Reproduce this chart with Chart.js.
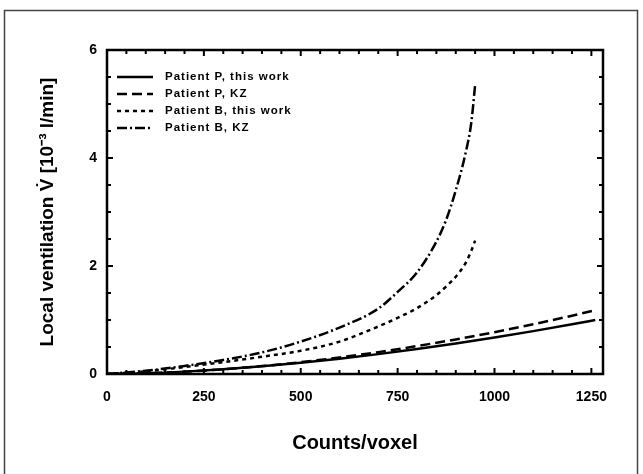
<!DOCTYPE html>
<html>
<head>
<meta charset="utf-8">
<script src="https://cdn.jsdelivr.net/npm/chart.js@4"></script>
<style>
  body { margin: 0; background: #fff; }
  #wrap { width: 643px; height: 474px; }
</style>
</head>
<body>
<div id="wrap"><canvas id="ventilation-chart" width="643" height="474"></canvas></div>
<script>
// values (counts/voxel -> local ventilation, 10^-3 l/min)
const countsP = [0, 100, 200, 300, 400, 500, 600, 700, 800, 900, 1000, 1100, 1200, 1260];
const patientPThisWork = [0, 0.014, 0.044, 0.087, 0.142, 0.208, 0.283, 0.368, 0.462, 0.565, 0.675, 0.794, 0.92, 1.0];
const patientPKZ = [0, 0.012, 0.041, 0.087, 0.146, 0.219, 0.306, 0.405, 0.517, 0.64, 0.775, 0.921, 1.08, 1.18];

const countsB = [0, 100, 200, 300, 400, 500, 600, 700, 750, 800, 850, 875, 900, 925, 940, 950];
const patientBThisWork = [0, 0.05, 0.13, 0.22, 0.32, 0.43, 0.6, 0.88, 1.04, 1.22, 1.46, 1.62, 1.8, 2.05, 2.28, 2.47];
const patientBKZ = [0, 0.06, 0.15, 0.26, 0.4, 0.6, 0.86, 1.21, 1.52, 1.88, 2.45, 2.85, 3.4, 4.08, 4.65, 5.35];

const seriesNames = ["Patient P, this work", "Patient P, KZ", "Patient B, this work", "Patient B, KZ"];
const xTicks = [0, 250, 500, 750, 1000, 1250];
const yTicks = [0, 2, 4, 6];

const FONT = "'Liberation Sans', Arial, sans-serif";
const toPoints = (xs, ys) => xs.map((x, i) => ({ x, y: ys[i] }));

const dashes = [[], [10, 5], [4, 4], [10, 3, 2, 3]];

// frame, inward ticks, outer border and legend
const figureDecor = {
  id: "figureDecor",
  beforeDraw(chart) {
    const ctx = chart.ctx;
    ctx.save();
    ctx.fillStyle = "#fff";
    ctx.fillRect(0, 0, chart.width, chart.height);
    ctx.strokeStyle = "#444";
    ctx.lineWidth = 1.5;
    ctx.strokeRect(4.5, 10.5, 633, 475);
    ctx.restore();
  },
  afterDatasetsDraw(chart) {
    const { ctx, chartArea: a, scales: { x, y } } = chart;
    ctx.save();
    ctx.strokeStyle = "#000";
    ctx.lineWidth = 2.5;
    ctx.setLineDash([]);
    ctx.strokeRect(a.left, a.top, a.right - a.left, a.bottom - a.top);

    ctx.lineWidth = 2;
    for (let v = 0; v <= 1250; v += 50) {
      const px = x.getPixelForValue(v);
      const len = v % 250 === 0 ? 6 : 4;
      ctx.beginPath();
      ctx.moveTo(px, a.bottom); ctx.lineTo(px, a.bottom - len);
      ctx.moveTo(px, a.top); ctx.lineTo(px, a.top + len);
      ctx.stroke();
    }
    for (let v = 0; v <= 6; v += 0.5) {
      const py = y.getPixelForValue(v);
      const len = v % 2 === 0 ? 6 : 4;
      ctx.beginPath();
      ctx.moveTo(a.left, py); ctx.lineTo(a.left + len, py);
      ctx.moveTo(a.right, py); ctx.lineTo(a.right - len, py);
      ctx.stroke();
    }

    // legend
    ctx.font = "bold 11.5px " + FONT;
    ctx.letterSpacing = "1px";
    ctx.textBaseline = "middle";
    ctx.fillStyle = "#000";
    chart.data.datasets.forEach((ds, i) => {
      const ly = a.top + 27 + i * 17;
      const lx = a.left + 10;
      ctx.lineWidth = 2.5;
      ctx.setLineDash(ds.borderDash);
      ctx.beginPath();
      ctx.moveTo(lx, ly); ctx.lineTo(lx + 36, ly);
      ctx.stroke();
      ctx.setLineDash([]);
      ctx.fillText(ds.label, lx + 48, ly);
    });
    ctx.restore();
  }
};

new Chart("ventilation-chart", {
  type: "line",
  data: {
    datasets: [
      { label: seriesNames[0], data: toPoints(countsP, patientPThisWork), borderDash: dashes[0] },
      { label: seriesNames[1], data: toPoints(countsP, patientPKZ), borderDash: dashes[1] },
      { label: seriesNames[2], data: toPoints(countsB, patientBThisWork), borderDash: dashes[2] },
      { label: seriesNames[3], data: toPoints(countsB, patientBKZ), borderDash: dashes[3] }
    ].map(ds => Object.assign(ds, {
      borderColor: "#000",
      borderWidth: 2.5,
      pointRadius: 0,
      cubicInterpolationMode: "monotone",
      fill: false
    }))
  },
  options: {
    responsive: false,
    animation: false,
    layout: { padding: { left: 0, top: 50, right: 40, bottom: 0 } },
    plugins: { legend: { display: false }, tooltip: { enabled: false } },
    scales: {
      x: {
        type: "linear",
        min: 0,
        max: 1280,
        afterBuildTicks: s => { s.ticks = xTicks.map(v => ({ value: v })); },
        afterFit: s => { s.height = 100; },
        grid: { display: false, drawTicks: false },
        border: { display: false },
        ticks: {
          padding: 15,
          color: "#000",
          font: { family: FONT, size: 14, weight: "bold" },
          maxRotation: 0,
          callback: v => String(v)
        },
        title: {
          display: true,
          text: "Counts/voxel",
          color: "#000",
          font: { family: FONT, size: 20, weight: "bold" },
          padding: { top: 19, bottom: 19 }
        }
      },
      y: {
        min: 0,
        max: 6,
        afterBuildTicks: s => { s.ticks = yTicks.map(v => ({ value: v })); },
        afterFit: s => { s.width = 107; },
        grid: { display: false, drawTicks: false },
        border: { display: false },
        ticks: { padding: 10, color: "#000", font: { family: FONT, size: 14, weight: "bold" } },
        title: {
          display: true,
          text: "Local ventilation V\u0307 [10\u207B\u00B3 l/min]",
          color: "#000",
          font: { family: FONT, size: 19, weight: "bold" },
          padding: { top: 36, bottom: 36 }
        }
      }
    }
  },
  plugins: [figureDecor]
});
</script>
</body>
</html>
